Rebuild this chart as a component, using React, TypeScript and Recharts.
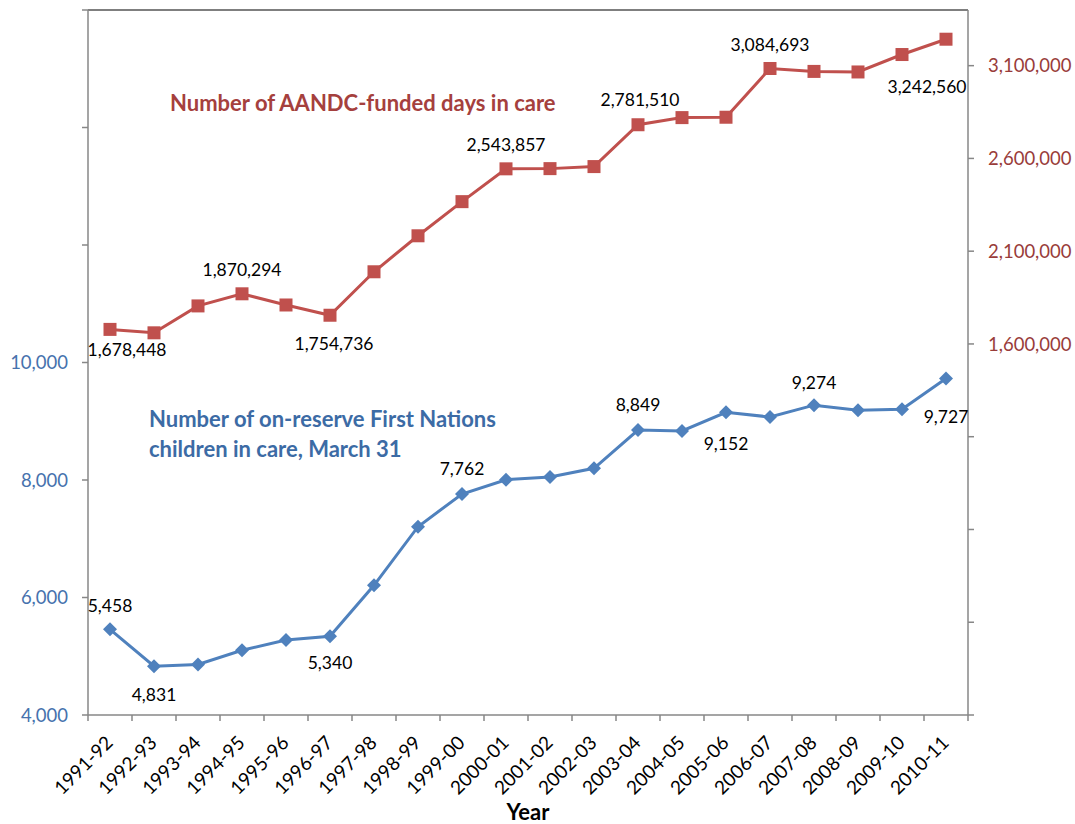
import React from 'react';
import { ComposedChart, Line, XAxis, YAxis, ReferenceLine, LabelList } from 'recharts';

const years = [
  '1991-92', '1992-93', '1993-94', '1994-95', '1995-96', '1996-97', '1997-98',
  '1998-99', '1999-00', '2000-01', '2001-02', '2002-03', '2003-04', '2004-05',
  '2005-06', '2006-07', '2007-08', '2008-09', '2009-10', '2010-11',
];

// on-reserve First Nations children in care, March 31 (left axis)
const childrenInCare = [
  5458, 4831, 4860, 5101, 5277, 5340, 6207, 7205, 7762, 8005,
  8051, 8199, 8849, 8835, 9152, 9072, 9274, 9186, 9203, 9727,
];

// AANDC-funded days in care (right axis)
const daysInCare = [
  1678448, 1660000, 1805000, 1870294, 1810000, 1754736, 1989000, 2183000, 2367000, 2543857,
  2545000, 2556000, 2781510, 2820000, 2822000, 3084693, 3069000, 3066000, 3160000, 3242560,
];

const leftTicks = [4000, 6000, 8000, 10000, 12000, 14000, 16000];
const rightTicks = [-400000, 100000, 600000, 1100000, 1600000, 2100000, 2600000, 3100000];

// which points carry a value label, and where it sits relative to the point
const childrenLabelPos: Record<number, [number, number]> = {
  0: [0, -24], 1: [0, 28], 5: [0, 26], 8: [0, -25],
  12: [0, -26], 14: [0, 31], 16: [0, -23], 19: [0, 38],
};
const daysLabelPos: Record<number, [number, number]> = {
  0: [17, 20], 3: [0, -24], 5: [4, 28], 9: [0, -24],
  12: [2, -25], 15: [0, -24], 19: [-19, 47],
};

const data = years.map((year, i) => ({
  year,
  children: childrenInCare[i],
  days: daysInCare[i],
}));

const RED = '#C0504D';
const BLUE = '#4F81BD';
const AXIS = '#878787';
const FONT = 'Lato, "Open Sans", sans-serif';

const fmt = (v: number) => String(v).replace(/\B(?=(\d{3})+(?!\d))/g, ',');

const makeLabel = (pos: Record<number, [number, number]>) => (props: any) => {
  const { x, y, value, index } = props;
  const off = pos[index];
  if (!off) return null;
  return (
    <text
      x={x + off[0]}
      y={y + off[1]}
      textAnchor="middle"
      dominantBaseline="central"
      fontSize={17.5}
      fontFamily={FONT}
      fill="#000"
    >
      {fmt(value)}
    </text>
  );
};

const SquareDot = (props: any) => {
  const { cx, cy } = props;
  return <rect x={cx - 6.5} y={cy - 6.5} width={13} height={13} fill={RED} />;
};

const DiamondDot = (props: any) => {
  const { cx, cy } = props;
  return <path d={`M${cx},${cy - 7}L${cx + 7},${cy}L${cx},${cy + 7}L${cx - 7},${cy}Z`} fill={BLUE} />;
};

const YearTick = (props: any) => {
  const { x, y, payload, index } = props;
  const half = 22;
  const last = index === years.length - 1;
  const ax = x + 4;
  const ay = y + 29;
  return (
    <g>
      <line x1={x - half} x2={x - half} y1={y} y2={y + 6} stroke={AXIS} strokeWidth={1.5} />
      {last && <line x1={x + half} x2={x + half} y1={y} y2={y + 6} stroke={AXIS} strokeWidth={1.5} />}
      <text
        x={ax}
        y={ay}
        textAnchor="end"
        fontSize={19}
        fontFamily={FONT}
        fill="#000"
        transform={`rotate(-45, ${ax}, ${ay})`}
      >
        {payload.value}
      </text>
    </g>
  );
};

export default function App() {
  return (
    <div style={{ position: 'absolute', left: 0, top: 0, width: 1075, height: 824, background: '#fff' }}>
      <ComposedChart width={1075} height={824} data={data} margin={{ top: 10, right: 0, bottom: 0, left: 0 }}>
        <XAxis
          dataKey="year"
          height={109}
          padding={{ left: 22, right: 22 }}
          interval={0}
          tickLine={false}
          tickSize={0}
          tickMargin={0}
          axisLine={{ stroke: AXIS, strokeWidth: 1.5 }}
          tick={<YearTick />}
        />
        <YAxis
          yAxisId="left"
          orientation="left"
          width={88}
          domain={[4000, 16000]}
          ticks={leftTicks}
          interval={0}
          tickFormatter={(v: number) => (v <= 10000 ? fmt(v) : '')}
          tick={{ fill: '#4672AD', fontSize: 18.5, fontFamily: FONT }}
          tickSize={6}
          tickMargin={14}
          axisLine={{ stroke: AXIS, strokeWidth: 1.5 }}
          tickLine={{ stroke: AXIS, strokeWidth: 1.5 }}
        />
        <YAxis
          yAxisId="right"
          orientation="right"
          width={107}
          domain={[-400000, 3400000]}
          ticks={rightTicks}
          interval={0}
          tickFormatter={(v: number) => (v >= 1600000 ? fmt(v) : '')}
          tick={{ fill: '#993C3A', fontSize: 18.5, fontFamily: FONT }}
          tickSize={6}
          tickMargin={14}
          axisLine={{ stroke: AXIS, strokeWidth: 1.5 }}
          tickLine={{ stroke: AXIS, strokeWidth: 1.5 }}
        />
        <ReferenceLine yAxisId="left" y={16000} stroke="#000" strokeWidth={1.2} />
        <Line
          yAxisId="right"
          dataKey="days"
          stroke={RED}
          strokeWidth={3}
          dot={<SquareDot />}
          activeDot={false}
          isAnimationActive={false}
        >
          <LabelList dataKey="days" content={makeLabel(daysLabelPos)} />
        </Line>
        <Line
          yAxisId="left"
          dataKey="children"
          stroke={BLUE}
          strokeWidth={3}
          dot={<DiamondDot />}
          activeDot={false}
          isAnimationActive={false}
        >
          <LabelList dataKey="children" content={makeLabel(childrenLabelPos)} />
        </Line>
      </ComposedChart>
      <svg
        width={1075}
        height={824}
        style={{ position: 'absolute', left: 0, top: 0, pointerEvents: 'none' }}
        fontFamily={FONT}
        fontWeight="bold"
      >
        <text x={170} y={111} fontSize={22} fill="#A5403D">
          Number of AANDC-funded days in care
        </text>
        <text x={149} y={427} fontSize={22} fill="#3C6BA5">
          Number of on-reserve First Nations
        </text>
        <text x={149} y={457} fontSize={22} fill="#3C6BA5">
          children in care, March 31
        </text>
        <text x={528} y={820} fontSize={22} fill="#000" textAnchor="middle">
          Year
        </text>
      </svg>
    </div>
  );
}
